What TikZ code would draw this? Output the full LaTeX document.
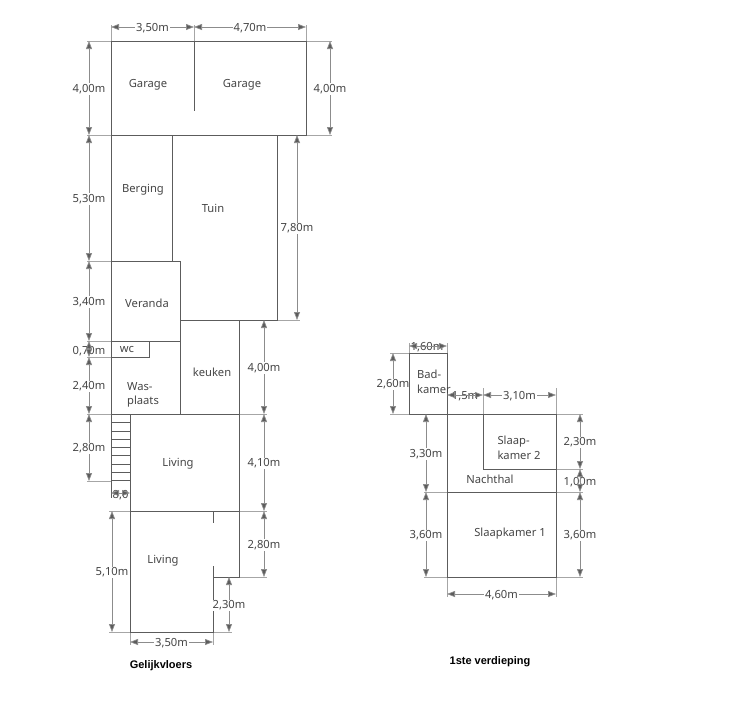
\documentclass[tikz,border=0pt]{standalone}
\usepackage{fontspec}
\setmainfont{Noto Sans}
\newfontfamily\titlefont{Liberation Sans}
\usetikzlibrary{arrows.meta}
\definecolor{wallgray}{gray}{0.36}
\definecolor{textgray}{gray}{0.27}

\begin{document}
\begin{tikzpicture}[
    x=1pt, y=-1pt,
    wall/.style={draw=wallgray, line width=0.9pt},
    extline/.style={draw=black!35, line width=0.7pt},
    dimline/.style={{Triangle[length=8pt,width=6pt,fill=wallgray]}-{Triangle[length=8pt,width=6pt,fill=wallgray]}, draw=black!45, line width=0.7pt, tips=on draw},
    room/.style={text=textgray, font=\fontsize{11.2}{14.5}\selectfont, inner sep=0pt, align=left, yshift=-1pt},
    dimlabel/.style={text=textgray, font=\fontsize{11.2}{13}\selectfont, inner sep=1pt, fill=white, yshift=-1pt},
    overlabel/.style={text=textgray, font=\fontsize{11.2}{13}\selectfont, inner sep=0pt, yshift=-1pt},
    title/.style={font=\titlefont\bfseries\fontsize{11}{13}\selectfont, inner sep=0pt}
]
\useasboundingbox (0,0) rectangle (736,702);

% extension lines, ground floor
\draw[extline] (87,41) -- (111,41);
\draw[extline] (87,135) -- (111,135);
\draw[extline] (87,261) -- (111,261);
\draw[extline] (87,341) -- (111,341);
\draw[extline] (87,357) -- (111,357);
\draw[extline] (87,414) -- (111,414);
\draw[extline] (87,481) -- (111,481);
\draw[extline] (306,41) -- (332,41);
\draw[extline] (306,135) -- (332,135);
\draw[extline] (277,320) -- (300,320);
\draw[extline] (239,414) -- (267,414);
\draw[extline] (239,511) -- (267,511);
\draw[extline] (239,577) -- (267,577);
\draw[extline] (109,511) -- (130,511);
\draw[extline] (109,632) -- (130,632);
\draw[extline] (213,632) -- (232,632);
\draw[extline] (111,25) -- (111,41);
\draw[extline] (194,25) -- (194,41);
\draw[extline] (306,25) -- (306,41);
\draw[extline] (130,632) -- (130,645);
\draw[extline] (213,632) -- (213,645);

% ground floor
\draw[wall] (111,41) rectangle (306,135);
\draw[wall] (194,41) -- (194,111);
\draw[wall] (111,135) -- (111,498);
\draw[wall] (172,135) -- (172,261);
\draw[wall] (277,135) -- (277,320) -- (180,320);
\draw[wall] (111,261) -- (180,261) -- (180,414);
\draw[wall] (111,341) -- (180,341);
\draw[wall] (111,357) -- (149,357) -- (149,341);
\draw[wall] (239,320) -- (239,577) -- (213,577);
\draw[wall] (111,414) -- (239,414);
\draw[wall] (130,414) -- (130,632) -- (213,632) -- (213,566);
\draw[wall] (130,511) -- (239,511);
\draw[wall] (213,511) -- (213,523);
\foreach \treadY in {422.7,431,439,447.3,455.6,464,472.3,480.7}
    \draw[wall] (111,\treadY) -- (130,\treadY);

\node[room] (garageA) at (148,84) {Garage};
\node[room] (garageB) at (242,84) {Garage};
\node[room] (berging) at (143,189) {Berging};
\node[room] (tuin) at (213,207) {Tuin};
\node[room] (veranda) at (147,302) {Veranda};
\node[room] (wc) at (127,348) {wc};
\node[room] (wasplaats) at (143,394) {Was-\\plaats};
\node[room] (keuken) at (212,371) {keuken};
\node[room] (livingA) at (178,463) {Living};
\node[room] (livingB) at (163,560) {Living};

% dimensions, ground floor
\draw[dimline] (111,27) -- node[dimlabel] (dimA) {3,50m} (194,27);
\draw[dimline] (194,27) -- node[dimlabel] (dimB) {4,70m} (306,27);
\draw[dimline] (89,41) -- node[dimlabel] (dimC) {4,00m} (89,135);
\draw[dimline] (330,41) -- node[dimlabel] (dimD) {4,00m} (330,135);
\draw[dimline] (89,135) -- node[dimlabel] (dimE) {5,30m} (89,261);
\draw[dimline] (297,135) -- node[dimlabel] (dimF) {7,80m} (297,320);
\draw[dimline] (89,261) -- node[dimlabel] (dimG) {3,40m} (89,341);
\node[overlabel] (dimH) at (89,350) {0,70m};
\draw[dimline] (89,341) -- (89,357);
\draw[dimline] (89,357) -- node[dimlabel] (dimI) {2,40m} (89,414);
\draw[dimline] (89,414) -- node[dimlabel] (dimJ) {2,80m} (89,481);
\draw[dimline] (264,320) -- node[dimlabel] (dimK) {4,00m} (264,414);
\draw[dimline] (264,414) -- node[dimlabel] (dimL) {4,10m} (264,511);
\draw[dimline] (264,511) -- node[dimlabel] (dimM) {2,80m} (264,577);
\draw[dimline] (112,511) -- node[dimlabel, inner xsep=0pt] (dimN) {5,10m} (112,632);
\draw[dimline] (229,577) -- node[dimlabel, inner xsep=0pt] (dimO) {2,30m} (229,632);
\draw[dimline] (130,642) -- node[dimlabel] (dimP) {3,50m} (213,642);
\node[overlabel] (dimQ) at (120.5,494) {8,0};
\draw[dimline] (111,493) -- (130,493);

\node[title] (gelijkvloers) at (161,666) {Gelijkvloers};

% extension lines, first floor
\draw[extline] (390,353) -- (409,353);
\draw[extline] (390,414) -- (409,414);
\draw[extline] (424,492) -- (447,492);
\draw[extline] (424,577) -- (447,577);
\draw[extline] (556,414) -- (583,414);
\draw[extline] (556,469) -- (583,469);
\draw[extline] (556,492) -- (583,492);
\draw[extline] (556,577) -- (583,577);
\draw[extline] (409,343) -- (409,353);
\draw[extline] (447,343) -- (447,353);
\draw[extline] (483,388) -- (483,414);
\draw[extline] (556,388) -- (556,414);
\draw[extline] (447,577) -- (447,597);
\draw[extline] (556,577) -- (556,597);

% first floor
\draw[wall] (409,414) -- (409,353) -- (447,353) -- (447,577) -- (556,577) -- (556,414) -- cycle;
\draw[wall] (483,414) -- (483,469) -- (556,469);
\draw[wall] (447,492) -- (556,492);

\node[room] (badkamer) at (434,381) {Bad-\\kamer};
\node[room] (slaapkamerB) at (519,447) {Slaap-\\kamer 2};
\node[room] (nachthal) at (490,478) {Nachthal};
\node[room] (slaapkamerA) at (510,533) {Slaapkamer 1};

% dimensions, first floor
\node[overlabel] (dimR) at (427,346) {1,60m};
\draw[dimline] (409,346) -- (447,346);
\draw[dimline] (393,353) -- node[dimlabel, inner xsep=0pt] (dimS) {2,60m} (393,414);
\node[overlabel] (dimT) at (465,395) {1,5m};
\draw[dimline] (447,395) -- (483,395);
\draw[dimline] (483,395) -- node[dimlabel] (dimU) {3,10m} (556,395);
\draw[dimline] (426,414) -- node[dimlabel] (dimV) {3,30m} (426,492);
\draw[dimline] (426,492) -- node[dimlabel] (dimW) {3,60m} (426,577);
\draw[dimline] (580,414) -- node[dimlabel] (dimX) {2,30m} (580,469);
\node[overlabel] (dimY) at (580,481) {1,00m};
\draw[dimline] (580,469) -- (580,492);
\draw[dimline] (580,492) -- node[dimlabel] (dimZ) {3,60m} (580,577);
\draw[dimline] (447,594) -- node[dimlabel] (dimAA) {4,60m} (556,594);

\node[title] (verdieping) at (490,662) {1ste verdieping};
\end{tikzpicture}
\end{document}
